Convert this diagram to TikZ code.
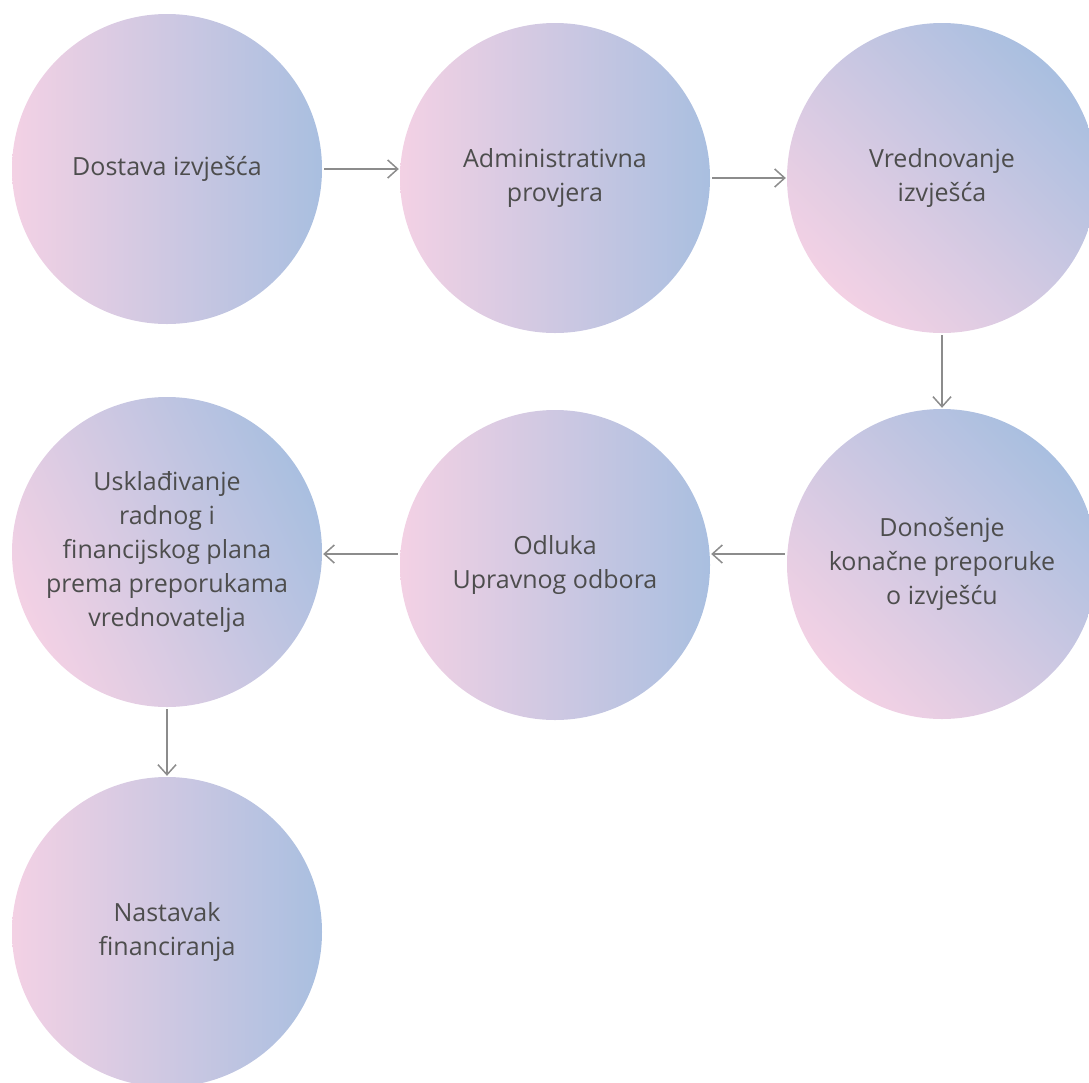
\documentclass[tikz,border=0pt]{standalone}
\usepackage{fontspec}
\setmainfont{Open Sans}
\usetikzlibrary{arrows.meta}
\definecolor{pk}{HTML}{F3D1E4}
\definecolor{bl}{HTML}{A9BFE0}
\definecolor{tx}{HTML}{4D4D4D}
\definecolor{ar}{HTML}{8C8C8C}
\begin{document}
\begin{tikzpicture}[x=1pt,y=-1pt,
  stepnode/.style={circle, minimum size=310pt, inner sep=0pt, text=tx, align=center,
    font=\fontsize{25}{34}\selectfont},
  hshade/.style={top color=pk, bottom color=bl, shading angle=90},
  dshade/.style={top color=pk, bottom color=bl, shading angle=135},
  sshade/.style={top color=pk, bottom color=bl, shading angle=115},
  arr/.style={draw=ar, line width=1.5pt, shorten <=2pt, shorten >=1pt,
    -{Straight Barb[length=10pt,width=18pt]}}]
\clip (0,0) rectangle (1089,1082);
\node[stepnode, hshade] (n1) at (167,169) {Dostava izvješća};
\node[stepnode, hshade] (n2) at (555,178) {Administrativna\\provjera};
\node[stepnode, dshade] (n3) at (942,178) {Vrednovanje\\izvješća};
\node[stepnode, dshade] (n4) at (942,564) {Donošenje\\konačne preporuke\\o izvješću};
\node[stepnode, hshade] (n5) at (555,565) {Odluka\\Upravnog odbora};
\node[stepnode, sshade] (n6) at (167,552) {Usklađivanje\\radnog i\\financijskog plana\\prema preporukama\\vrednovatelja};
\node[stepnode, hshade] (n7) at (167,932) {Nastavak\\financiranja};
\coordinate (r2) at (0,554);
\draw[arr] (n1.east) -- (n2.west |- n1.east);
\draw[arr] (n2.east) -- (n3.west |- n2.east);
\draw[arr] (n3.south) -- (n4.north);
\draw[arr] (n4.west |- r2) -- (n5.east |- r2);
\draw[arr] (n5.west |- r2) -- (n6.east |- r2);
\draw[arr] (n6.south) -- (n7.north);
\end{tikzpicture}
\end{document}
